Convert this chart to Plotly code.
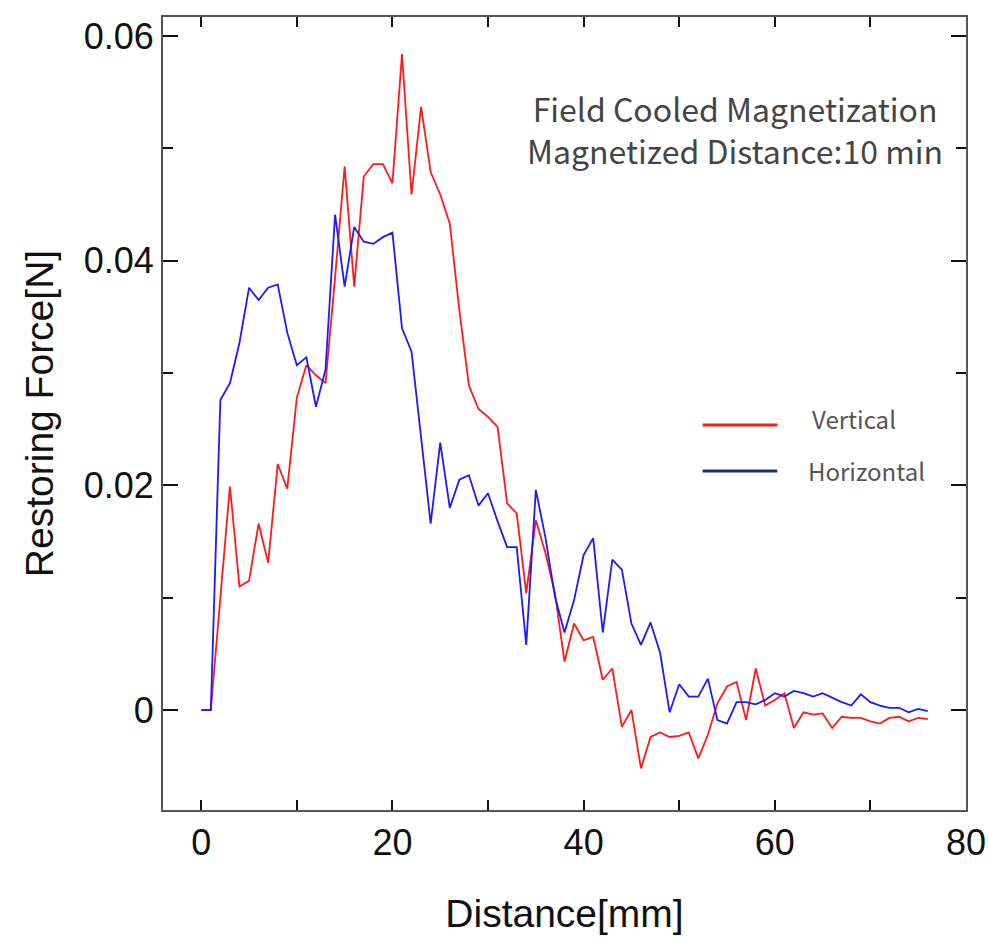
import plotly.graph_objects as go

distance = list(range(0, 77))

vertical = [0.0, 0.0, 0.0100, 0.0199, 0.0110, 0.0115, 0.0166, 0.0131, 0.0219, 0.0197,
            0.0278, 0.0307, 0.0298, 0.0291, 0.0385, 0.0484, 0.0377, 0.0475, 0.0486, 0.0486,
            0.0469, 0.0584, 0.0459, 0.0537, 0.0479, 0.0459, 0.0433, 0.0356, 0.0289, 0.0268,
            0.0261, 0.0252, 0.0184, 0.0175, 0.0104, 0.0169, 0.0140, 0.0104, 0.0043, 0.0077,
            0.0062, 0.0065, 0.0027, 0.0037, -0.0015, 0.0000, -0.0052, -0.0024, -0.0020, -0.0024,
            -0.0023, -0.0020, -0.0043, -0.0022, 0.0006, 0.0021, 0.0025, -0.0009, 0.0037, 0.0004,
            0.0009, 0.0015, -0.0016, -0.0002, -0.0004, -0.0003, -0.0016, -0.0006, -0.0007, -0.0007,
            -0.0010, -0.0012, -0.0007, -0.0006, -0.0010, -0.0007, -0.0008]

horizontal = [0.0, 0.0, 0.0276, 0.0291, 0.0327, 0.0376, 0.0365, 0.0376, 0.0379, 0.0336,
              0.0307, 0.0314, 0.0270, 0.0303, 0.0441, 0.0377, 0.0430, 0.0417, 0.0415, 0.0421,
              0.0425, 0.0340, 0.0319, 0.0245, 0.0166, 0.0238, 0.0180, 0.0205, 0.0209, 0.0182,
              0.0193, 0.0168, 0.0145, 0.0145, 0.0058, 0.0196, 0.0154, 0.0101, 0.0069, 0.0098,
              0.0138, 0.0153, 0.0069, 0.0134, 0.0125, 0.0077, 0.0058, 0.0078, 0.0051, -0.0002,
              0.0023, 0.0012, 0.0012, 0.0028, -0.0009, -0.0012, 0.0007, 0.0007, 0.0005, 0.0009,
              0.0015, 0.0012, 0.0017, 0.0015, 0.0012, 0.0015, 0.0011, 0.0007, 0.0004, 0.0014,
              0.0007, 0.0004, 0.0002, 0.0002, -0.0002, 0.0001, -0.0001]

x_ticks = [0, 20, 40, 60, 80]
y_ticks = [0, 0.02, 0.04, 0.06]
y_tick_text = ["0", "0.02", "0.04", "0.06"]

fig = go.Figure()
fig.add_trace(go.Scatter(x=distance, y=vertical, mode="lines", name="Vertical",
                         line=dict(color="#ff1a1a", width=1.8), showlegend=False))
fig.add_trace(go.Scatter(x=distance, y=horizontal, mode="lines", name="Horizontal",
                         line=dict(color="#1a1aff", width=1.8), showlegend=False))

axis_common = dict(showgrid=False, zeroline=False, showline=True, linecolor="#555555",
                   linewidth=2, mirror="allticks", ticks="inside", tickcolor="#111111",
                   tickwidth=1.5, automargin=False,
                   tickfont=dict(family="Liberation Sans, Arial", size=36, color="#111111"))

fig.update_xaxes(range=[-4, 80], tickvals=x_ticks, ticklen=10,
                 minor=dict(dtick=10, ticklen=10, ticks="inside", tickcolor="#111111", tickwidth=1.5),
                 title=dict(text="Distance[mm]", font=dict(family="Liberation Sans, Arial", size=39, color="#111111"),
                            standoff=37),
                 **axis_common)
fig.update_yaxes(range=[-0.0089, 0.0617], tickvals=y_ticks, ticktext=y_tick_text, ticklen=15,
                 minor=dict(tickvals=[0.01, 0.03, 0.05], ticklen=10, ticks="inside", tickcolor="#111111", tickwidth=1.5),
                 title=dict(text="Restoring Force[N]", font=dict(family="Liberation Sans, Arial", size=39, color="#111111"),
                            standoff=18),
                 **axis_common)

# Legend drawn manually (line samples + labels)
fig.add_shape(type="line", xref="paper", yref="paper", x0=0.672, x1=0.765, y0=0.4855, y1=0.4855,
              line=dict(color="#ff1a1a", width=3))
fig.add_shape(type="line", xref="paper", yref="paper", x0=0.672, x1=0.765, y0=0.4275, y1=0.4275,
              line=dict(color="#1f2f75", width=3))
fig.add_annotation(xref="paper", yref="paper", x=0.806, y=0.494, text="Vertical", showarrow=False,
                   xanchor="left", yanchor="middle", font=dict(family="Noto Sans CJK JP", size=24, color="#555555"))
fig.add_annotation(xref="paper", yref="paper", x=0.801, y=0.4275, text="Horizontal", showarrow=False,
                   xanchor="left", yanchor="middle", font=dict(family="Noto Sans CJK JP", size=24, color="#555555"))

fig.add_annotation(xref="paper", yref="paper", x=0.712, y=0.859,
                   text="Field Cooled Magnetization<br>Magnetized Distance:10 min",
                   showarrow=False, xanchor="center", yanchor="middle", align="center",
                   font=dict(family="Noto Sans CJK JP", size=32, color="#444444"),
                   bgcolor="white")

fig.update_layout(width=988, height=947, margin=dict(l=163, r=22, t=17, b=137, autoexpand=False),
                  paper_bgcolor="white", plot_bgcolor="white")

fig.write_html("out.html", config={"displayModeBar": False},
               post_script="document.body.style.margin='0';document.body.style.overflow='hidden';")
